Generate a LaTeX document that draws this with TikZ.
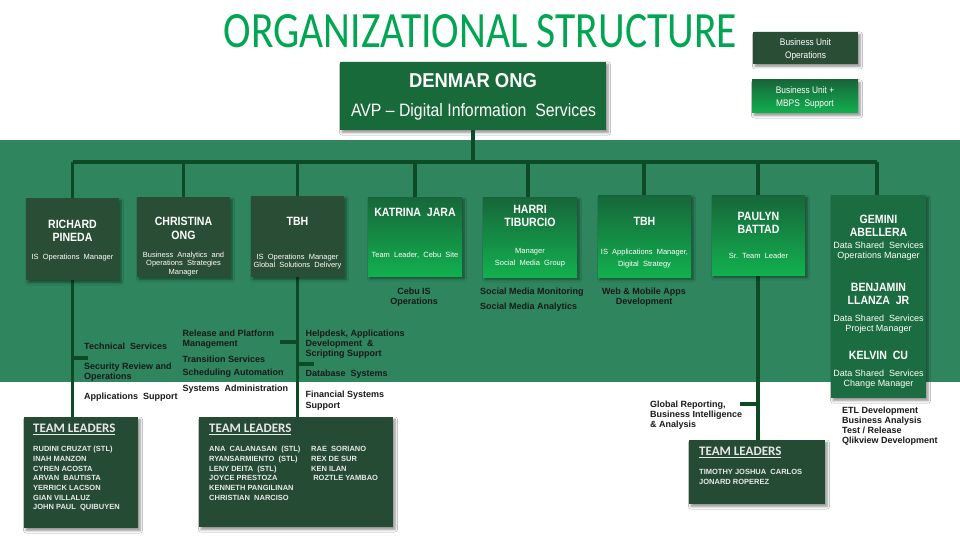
\documentclass[tikz,border=0pt]{standalone}
\usepackage{fontspec}
\setmainfont{Liberation Sans}
\newfontfamily\titlefont{Carlito}
\newfontfamily\namefont[FakeStretch=0.88]{Liberation Sans}
\newfontfamily\tlfont{Carlito}
\usetikzlibrary{shadows,shadows.blur}
\definecolor{cTitle}{HTML}{00A651}
\definecolor{cBand}{HTML}{2E855E}
\definecolor{cDark}{HTML}{2A4D36}
\definecolor{cHead}{HTML}{186A3A}
\definecolor{cLine}{HTML}{0C4B26}
\definecolor{cGtop}{HTML}{17663A}
\definecolor{cGbot}{HTML}{12B04F}
\definecolor{cGem}{HTML}{1B6C40}
\definecolor{cTLbox}{HTML}{254B35}
\definecolor{cLabel}{HTML}{1A1A1A}
\definecolor{cTL}{HTML}{E8E8E8}
\begin{document}
\begin{tikzpicture}[x=1pt,y=-1pt,
  conn/.style={line width=3.6pt, draw=cLine},
  boxshadow/.style={blur shadow={shadow xshift=2pt,shadow yshift=-2.5pt,shadow blur radius=2.5pt,shadow blur steps=6,shadow opacity=45}},
  darkbox/.style={fill=cDark, inner sep=0, boxshadow},
  gradbox/.style={top color=cGtop, bottom color=cGbot, inner sep=0, boxshadow},
  headbox/.style={fill=cHead, inner sep=0, boxshadow},
  gembox/.style={fill=cGem, inner sep=0, boxshadow},
  tlbox/.style={fill=cTLbox, inner sep=0, boxshadow},
  nm/.style={font=\namefont\bfseries\fontsize{12}{13.5}\selectfont, text=white, inner sep=0, align=center, anchor=north},
  sb/.style={font=\fontsize{7.5}{8.5}\selectfont, text=white, inner sep=0, align=center, anchor=north},
  gs/.style={font=\fontsize{9}{10}\selectfont, text=white, inner sep=0, align=center, anchor=north},
  lg/.style={font=\namefont\fontsize{9.5}{12.5}\selectfont, text=white, inner sep=0, align=center, anchor=north},
  lb/.style={font=\bfseries\fontsize{9}{10}\selectfont, text=cLabel, inner sep=0, align=left, anchor=north west},
  lbc/.style={font=\bfseries\fontsize{9}{10}\selectfont, text=cLabel, inner sep=0, align=center, anchor=north},
  tn/.style={font=\bfseries\fontsize{7.5}{9.67}\selectfont, text=cTL, inner sep=0, align=left, anchor=north west},
  th/.style={font=\tlfont\bfseries\fontsize{13}{13}\selectfont, text=cTL, inner sep=0, anchor=north west}
]
\useasboundingbox (0,0) rectangle (960,540);
\fill[white] (0,0) rectangle (960,540);
% green band
\fill[cBand] (0,140) rectangle (960,382);

% title
\node[inner sep=0, anchor=north, text=cTitle] (title) at (480.5,14) {\resizebox{513pt}{33pt}{\titlefont ORGANIZATIONAL STRUCTURE}};

% box nodes (empty, text placed separately)
\node[headbox, minimum width=266pt, minimum height=68pt] (denmar) at (473,96) {};
\node[darkbox, minimum width=105pt, minimum height=32pt] (leg1) at (805.5,48) {};
\node[gradbox, minimum width=106pt, minimum height=33pt] (leg2) at (805,96.5) {};

\coordinate (bus) at (0,162);
% connectors (drawn under boxes)
\draw[conn] (denmar.south) -- (denmar.south |- bus);
\draw[conn] (72.5,162) -- (877,162);
\draw[conn] (72.5,162) -- (72.5,417);
\draw[conn] (183.5,162) -- (183.5,200);
\draw[conn] (297.5,162) -- (297.5,417);
\draw[conn] (415,162) -- (415,200);
\draw[conn] (528,162) -- (528,200);
\draw[conn] (644,162) -- (644,200);
\draw[conn] (758,162) -- (758,440);
\draw[conn] (877,162) -- (877,200);
% ticks
\draw[conn] (72.5,358) -- (88,358);
\draw[conn] (280,342) -- (297.5,342);
\draw[conn] (297.5,364) -- (314,364);
\draw[conn] (740,404) -- (758,404);

% second row boxes
\node[darkbox, minimum width=93pt, minimum height=82pt] (richard) at (72.5,239) {};
\node[darkbox, minimum width=93pt, minimum height=80pt] (christina) at (183.5,237) {};
\node[darkbox, minimum width=93pt, minimum height=81pt] (tbha) at (297.5,236.5) {};
\node[gradbox, minimum width=94pt, minimum height=79pt] (katrina) at (415,236.5) {};
\node[gradbox, minimum width=94pt, minimum height=80pt] (harri) at (530,237) {};
\node[gradbox, minimum width=93pt, minimum height=82pt] (tbhb) at (644.5,236) {};
\node[gradbox, minimum width=93pt, minimum height=80pt] (paulyn) at (758.5,235) {};
\node[gembox, minimum width=95pt, minimum height=203pt] (gemini) at (878.5,296.5) {};

% team leader boxes
\node[tlbox, minimum width=114pt, minimum height=111pt] (tla) at (81,472.5) {};
\node[tlbox, minimum width=194pt, minimum height=110pt] (tlb) at (296,472) {};
\node[tlbox, minimum width=136pt, minimum height=64pt] (tlc) at (757,472) {};

% header texts
\node[inner sep=0, anchor=north, text=white] (denmarN) at (473,73) {\resizebox{128pt}{14pt}{\bfseries DENMAR ONG}};
\node[inner sep=0, anchor=north, text=white] (denmarT) at (473.5,103) {\resizebox{245pt}{13pt}{AVP -- Digital Information\ \ Services}};
\node[lg] (leg1T) at (805.5,38.5) {Business Unit\\Operations};
\node[lg] (leg2T) at (805,86.5) {Business Unit +\\MBPS\ \ Support};

% box texts
\node[nm] (richardN) at (72.5,219.5) {RICHARD\\PINEDA};
\node[sb] (richardS) at (72.5,253.5) {IS\ \ Operations\ \ Manager};
\node[nm] (christinaN) at (183.5,217) {CHRISTINA\\ONG};
\node[sb] (christinaS) at (183.5,251.5) {Business\ \ Analytics\ \ and\\Operations\ \ Strategies\\Manager};
\node[nm] (tbhaN) at (297.5,217) {TBH};
\node[sb] (tbhaS) at (297.5,253.5) {IS\ \ Operations\ \ Manager\\Global\ \ Solutions\ \ Delivery};
\node[nm] (katrinaN) at (415,208) {KATRINA~~JARA};
\node[sb] (katrinaS) at (415,252) {Team\ \ Leader,\ \ Cebu\ \ Site};
\node[nm, font=\namefont\bfseries\fontsize{12}{13}\selectfont] (harriN) at (530,205) {HARRI\\TIBURCIO};
\node[sb, font=\fontsize{7.5}{12}\selectfont] (harriS) at (530,248.5) {Manager\\Social\ \ Media\ \ Group};
\node[nm] (tbhbN) at (644.5,217) {TBH};
\node[sb, font=\fontsize{7.5}{12}\selectfont] (tbhbS) at (644.5,248.5) {IS\ \ Applications\ \ Manager,\\Digital\ \ Strategy};
\node[nm, font=\namefont\bfseries\fontsize{12}{13}\selectfont] (paulynN) at (758.5,212) {PAULYN\\BATTAD};
\node[sb] (paulynS) at (758.5,253) {Sr.\ \ Team\ \ Leader};
\node[nm, font=\namefont\bfseries\fontsize{12}{13}\selectfont] (geminiN) at (878.5,215) {GEMINI\\ABELLERA};
\node[gs] (geminiS) at (878.5,241.5) {Data Shared\ \ Services\\Operations Manager};
\node[nm, font=\namefont\bfseries\fontsize{12}{13}\selectfont] (benjaminN) at (878.5,283) {BENJAMIN\\LLANZA~~JR};
\node[gs] (benjaminS) at (878.5,314.5) {Data Shared\ \ Services\\Project Manager};
\node[nm] (kelvinN) at (878.5,351) {KELVIN~~CU};
\node[gs] (kelvinS) at (878.5,370) {Data Shared\ \ Services\\Change Manager};

% labels on band / below
\node[lb] (l1) at (84,342.5) {Technical\ \ Services};
\node[lb] (l2) at (84,362.5) {Security Review and\\Operations};
\node[lb] (l3) at (84,392.5) {Applications\ \ Support};
\node[lb] (l4) at (182.5,329.5) {Release and Platform\\Management};
\node[lb] (l5) at (182.5,355.5) {Transition Services};
\node[lb] (l6) at (182.5,368.5) {Scheduling Automation};
\node[lb] (l7) at (182.5,384.5) {Systems\ \ Administration};
\node[lb] (l8) at (305.5,329.5) {Helpdesk, Applications\\Development\ \ \&\\Scripting Support};
\node[lb] (l9) at (305.5,369.5) {Database\ \ Systems};
\node[lb, font=\bfseries\fontsize{9}{11}\selectfont] (l10) at (305.5,390.5) {Financial Systems\\Support};
\node[lbc] (l11) at (414,287.5) {Cebu IS\\Operations};
\node[lb, font=\bfseries\fontsize{9}{14.5}\selectfont] (l12) at (480,288) {Social Media Monitoring\\Social Media Analytics};
\node[lbc] (l13) at (644,287.5) {Web \& Mobile Apps\\Development};
\node[lb] (l14) at (650,401) {Global Reporting,\\Business Intelligence\\\& Analysis};
\node[lb] (l15) at (842,406.5) {ETL Development\\Business Analysis\\Test / Release\\Qlikview Development};

% team leaders texts
\node[th] (tlaH) at (33,423.5) {\underline{TEAM LEADERS}};
\node[tn] (tlaN) at (33,446.3) {RUDINI CRUZAT (STL)\\INAH MANZON\\CYREN ACOSTA\\ARVAN\ \ BAUTISTA\\YERRICK LACSON\\GIAN VILLALUZ\\JOHN PAUL\ \ QUIBUYEN};
\node[th] (tlbH) at (209,423.5) {\underline{TEAM LEADERS}};
\node[tn] (tlbN) at (209,446.3) {ANA\ \ CALANASAN\ \ (STL)\\RYANSARMIENTO\ \ (STL)\\LENY DEITA\ \ (STL)\\JOYCE PRESTOZA\\KENNETH PANGILINAN\\CHRISTIAN\ \ NARCISO};
\node[tn] (tlbM) at (311,446.3) {RAE\ \ SORIANO\\REX DE SUR\\KEN ILAN\\\ ROZTLE YAMBAO};
\node[th] (tlcH) at (699,446.5) {\underline{TEAM LEADERS}};
\node[tn] (tlcN) at (699,469.3) {TIMOTHY JOSHUA\ \ CARLOS\\JONARD ROPEREZ};
\end{tikzpicture}
\end{document}
